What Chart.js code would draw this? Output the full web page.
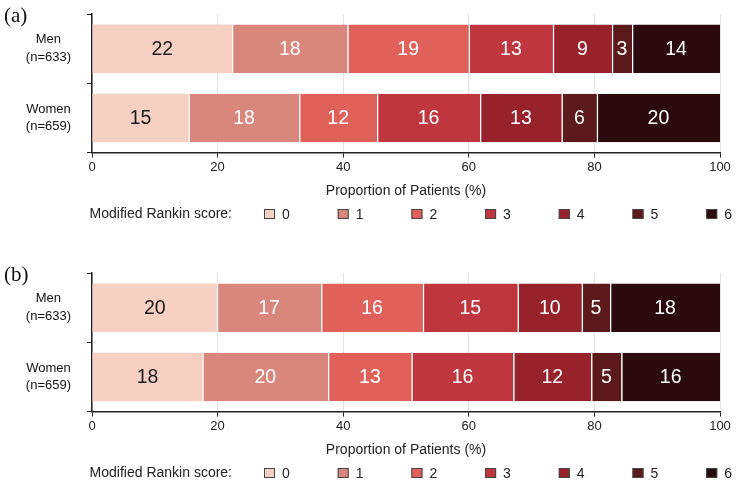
<!DOCTYPE html>
<html>
<head>
<meta charset="utf-8">
<script src="https://cdn.jsdelivr.net/npm/chart.js@4.4.1/dist/chart.umd.min.js"></script>
<style>
  html, body { margin: 0; padding: 0; background: #fff; }
  body { width: 737px; height: 489px; position: relative; overflow: hidden; }
  .panel { position: absolute; left: 0; width: 737px; height: 232px; }
  .tag { position: absolute; left: 4px; line-height: 1; font-family: "Liberation Serif", "DejaVu Serif", serif; font-size: 21px; color: #111; }
</style>
</head>
<body>
<div class="panel" style="top:0"><canvas id="chartA"></canvas></div>
<div class="tag" style="top:5px">(a)</div>
<div class="panel" style="top:259px"><canvas id="chartB"></canvas></div>
<div class="tag" style="top:264px">(b)</div>
<script>
var groups = [['Men', '(n=633)'], ['Women', '(n=659)']];
var scores = ['0', '1', '2', '3', '4', '5', '6'];
var colors = ['#f6d0c2', '#d9877c', '#e0605a', '#c0363e', '#97222b', '#5c191c', '#2a0a0e'];

// panel (a), % of patients per modified Rankin score
var menA = [22.3, 18.4, 19.3, 13.4, 9.4, 3.2, 14.0];
var womenA = [15.4, 17.6, 12.4, 16.4, 13.0, 5.6, 19.6];

// panel (b)
var menB = [19.9, 16.6, 16.2, 15.1, 10.2, 4.5, 17.5];
var womenB = [17.6, 20.0, 13.3, 16.2, 12.4, 4.8, 15.7];

var xMin = 0, xMax = 100, xStep = 20;

var sans = '"Liberation Sans", Arial, Helvetica, sans-serif';

// numbers inside the bar segments
var valueLabels = {
    id: 'valueLabels',
    afterDatasetsDraw: function (chart) {
        var ctx = chart.ctx;
        ctx.save();
        ctx.font = '19.5px ' + sans;
        ctx.textAlign = 'center';
        ctx.textBaseline = 'middle';
        chart.data.datasets.forEach(function (ds, i) {
            var meta = chart.getDatasetMeta(i);
            meta.data.forEach(function (bar, j) {
                ctx.fillStyle = i === 0 ? '#1a1a1a' : '#ffffff';
                ctx.fillText(Math.round(ds.data[j]), (bar.x + bar.base) / 2, bar.y + 1);
            });
        });
        ctx.restore();
    }
};

// legend row: "Modified Rankin score:" followed by the score boxes
var scoreLegend = {
    id: 'scoreLegend',
    afterDraw: function (chart) {
        var ctx = chart.ctx;
        var y = 214;
        ctx.save();
        ctx.font = '14px ' + sans;
        ctx.textBaseline = 'middle';
        ctx.fillStyle = '#222';
        ctx.textAlign = 'right';
        ctx.fillText('Modified Rankin score:', 232, y);
        ctx.textAlign = 'left';
        chart.data.datasets.forEach(function (ds, i) {
            var x = 264 + i * 73.7;
            ctx.fillStyle = ds.backgroundColor;
            ctx.fillRect(x, y - 5, 11, 10);
            ctx.strokeStyle = '#444';
            ctx.lineWidth = 1;
            ctx.strokeRect(x + 0.5, y - 4.5, 10, 9);
            ctx.fillStyle = '#222';
            ctx.fillText(ds.label, x + 18, y + 1);
        });
        ctx.restore();
    }
};

function buildData(men, women) {
    return {
        labels: groups,
        datasets: scores.map(function (s, i) {
            return {
                label: s,
                data: [men[i], women[i]],
                backgroundColor: colors[i],
                borderColor: '#ffffff',
                borderWidth: { top: 0, right: 0, bottom: 0, left: i === 0 ? 0 : 1.2 },
                borderSkipped: false,
                barPercentage: 0.7,
                categoryPercentage: 1
            };
        })
    };
}

function makeChart(id, men, women) {
    return new Chart(document.getElementById(id), {
        type: 'bar',
        data: buildData(men, women),
        options: {
            indexAxis: 'y',
            responsive: true,
            maintainAspectRatio: false,
            animation: false,
            layout: { padding: { top: 14, left: 25, right: 17, bottom: 32 } },
            plugins: {
                legend: { display: false },
                tooltip: { enabled: false }
            },
            scales: {
                x: {
                    stacked: true,
                    min: xMin,
                    max: xMax,
                    ticks: { stepSize: xStep, padding: 2, color: '#222', font: { family: sans, size: 13 } },
                    grid: { color: '#e4e4e4', lineWidth: 1, tickColor: '#222', tickLength: 5 },
                    border: { color: '#222', width: 1.5 },
                    title: {
                        display: true,
                        text: 'Proportion of Patients (%)',
                        color: '#222',
                        font: { family: sans, size: 14 },
                        padding: { top: 6, bottom: 0 }
                    }
                },
                y: {
                    stacked: true,
                    afterFit: function (scale) {
                        scale.width = 67;
                        scale.paddingTop = 0;
                        scale.paddingBottom = 0;
                    },
                    ticks: {
                        crossAlign: 'center',
                        padding: 16,
                        color: '#111',
                        font: { family: sans, size: 13, lineHeight: 1.35 }
                    },
                    grid: { offset: true, drawOnChartArea: false, tickColor: '#222', tickLength: 5 },
                    border: { color: '#222', width: 1.5 }
                }
            }
        },
        plugins: [valueLabels, scoreLegend]
    });
}

makeChart('chartA', menA, womenA);
makeChart('chartB', menB, womenB);
</script>
</body>
</html>
